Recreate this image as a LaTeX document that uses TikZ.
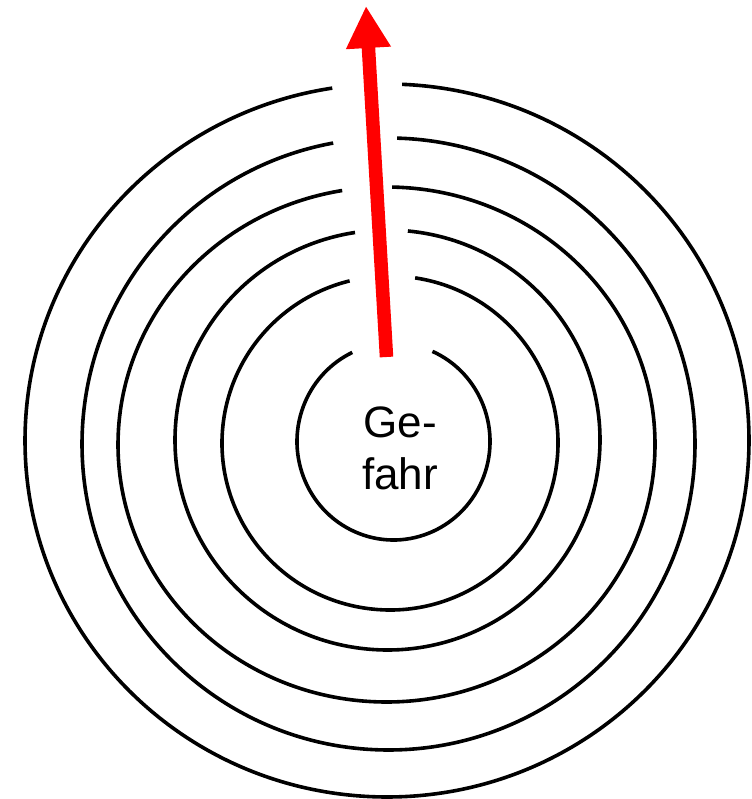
\documentclass[tikz,border=0pt]{standalone}
\usepackage{fontspec}
\setmainfont{Liberation Sans}
\usetikzlibrary{arrows.meta}
\newcommand\ringarc[7]{%
  \coordinate (#7) at (#1,#2);
  \draw[ring] ([shift={(#5:#3 and #4)}]#7) arc[start angle=#5, end angle=#6, x radius=#3, y radius=#4];
}
\begin{document}
\begin{tikzpicture}[x=1pt,y=-1pt,
  ring/.style={line width=3.6pt, black},
  redarrow/.style={red, line width=13.5pt, -{Triangle[length=42pt,width=42pt]}},
  label/.style={font=\fontsize{44}{52}\selectfont, align=center, inner sep=0pt}]
\useasboundingbox (0,0) rectangle (751,799);
\clip (0,0) rectangle (751,799);
\fill[white] (0,0) rectangle (751,799);
% rings, outer to inner: cx, cy, rx, ry, start, end, name
\ringarc{387}{440.5}{362}{356.5}{-87.6}{261.3}{c1}
\ringarc{388.5}{444}{306.5}{306}{-88.4}{259.6}{c2}
\ringarc{386.5}{444.5}{268.5}{257.5}{-88.8}{260.5}{c3}
\ringarc{387.5}{440}{212.5}{210}{-84.5}{261.2}{c4}
\ringarc{390}{443}{168}{167}{-81.4}{256.1}{c5}
\ringarc{393.5}{441.5}{96.5}{98.5}{-66.2}{244.7}{c6}
% arrow
\coordinate (tail) at (386.5,357);
\coordinate (tip) at (366,6);
\draw[redarrow] (tail) -- (tip);
% label
\node[label] (gefahr) at (400,448) {Ge-\\fahr};
\end{tikzpicture}
\end{document}
